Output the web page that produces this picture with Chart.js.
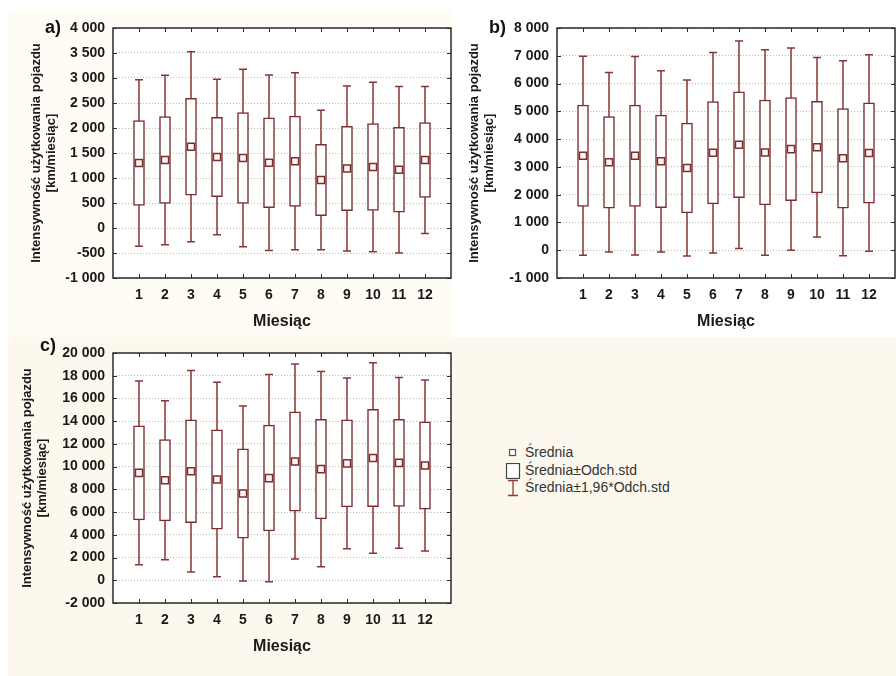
<!DOCTYPE html>
<html lang="pl">
<head>
<meta charset="utf-8">
<script src="https://cdn.jsdelivr.net/npm/chart.js@4.4.1/dist/chart.umd.min.js"></script>
<style>
  html, body { margin: 0; padding: 0; width: 896px; height: 676px; overflow: hidden; background: #fff; }
  body { position: relative; font-family: "Liberation Sans", Arial, sans-serif; }
  .bg { position: absolute; }
  .bg-a { left: 8px; top: 10px; width: 445px; height: 327px; background: #fffcf5; }
  .bg-c { left: 8px; top: 337px; width: 888px; height: 339px; background: #fdf8ed; }
  canvas { position: absolute; }
  #chartA { left: 0; top: 0; }
  #chartB { left: 444px; top: 0; }
  #chartC { left: 0; top: 325px; }
  .tag { position: absolute; font: bold 18px "Liberation Sans", Arial, sans-serif; color: #111; line-height: 20px; }
  .legend { position: absolute; left: 505px; top: 444px; font-size: 14px; color: #333; }
  .legend div { height: 17.5px; line-height: 17.5px; white-space: nowrap; }
  .legend svg { display: inline-block; vertical-align: middle; margin-right: 4px; }
</style>
</head>
<body>
<div class="bg bg-a"></div>
<div class="bg bg-c"></div>

<canvas id="chartA" width="460" height="340"></canvas>
<canvas id="chartB" width="460" height="340"></canvas>
<canvas id="chartC" width="460" height="340"></canvas>

<span class="tag" style="left:45px; top:17px;">a)</span>
<span class="tag" style="left:489px; top:17px;">b)</span>
<span class="tag" style="left:40px; top:335px;">c)</span>

<div class="legend">
  <div><svg width="16" height="16"><rect x="4.5" y="4.5" width="6" height="6" fill="#fff" stroke="#6b4a4a" stroke-width="1.2"/></svg>Średnia</div>
  <div><svg width="16" height="16"><rect x="1.5" y="0.5" width="13" height="15" fill="#fff" stroke="#444" stroke-width="1.2"/></svg>Średnia±Odch.std</div>
  <div><svg width="16" height="18"><path d="M3 1.5H13M8 1.5V16.5M3 16.5H13" stroke="#8b3a3a" stroke-width="1.3" fill="none"/></svg>Średnia±1,96*Odch.std</div>
</div>

<script>
// Miesiące na osi X
const months = [1, 2, 3, 4, 5, 6, 7, 8, 9, 10, 11, 12];

// a) średnia i odchylenie standardowe [km/miesiąc]
const meanA = [1300, 1360, 1625, 1420, 1400, 1305, 1335, 960, 1190, 1220, 1165, 1360];
const sdA   = [850, 866, 969, 793, 906, 896, 902, 712, 842, 866, 849, 749];

// b)
const meanB = [3400, 3165, 3400, 3200, 2960, 3510, 3800, 3520, 3640, 3710, 3310, 3500];
const sdB   = [1827, 1648, 1822, 1666, 1618, 1840, 1905, 1887, 1858, 1648, 1792, 1804];

// c)
const meanC = [9450, 8800, 9600, 8870, 7640, 8990, 10450, 9780, 10290, 10760, 10330, 10100];
const sdC   = [4130, 3573, 4525, 4365, 3925, 4657, 4379, 4379, 3837, 4277, 3837, 3837];

// zakres osi Y: [min, max, krok]
const rangeA = [-1000, 4000, 500];
const rangeB = [-1000, 8000, 1000];
const rangeC = [-2000, 20000, 2000];

const Z = 1.96;
const BOX = '#7a2e2e';
const WHISKER = '#853636';

Chart.defaults.font.family = '"Liberation Sans", Arial, sans-serif';
Chart.defaults.color = '#1a1a1a';

function fmt(v) {
    const s = Math.abs(v).toString().replace(/\B(?=(\d{3})+(?!\d))/g, ' ');
    return (v < 0 ? '-' : '') + s;
}

// white plot area, whiskers under the boxes, frame with inner ticks on top
function boxPlot(means, sds) {
    return {
        id: 'boxPlot',
        beforeDraw(chart) {
            const {ctx, chartArea: a} = chart;
            ctx.save();
            ctx.fillStyle = '#fff';
            ctx.fillRect(a.left, a.top, a.width, a.height);
            ctx.restore();
        },
        beforeDatasetsDraw(chart) {
            const {ctx, scales: {x, y}} = chart;
            ctx.save();
            ctx.strokeStyle = WHISKER;
            ctx.lineWidth = 1.5;
            means.forEach((m, i) => {
                const px = Math.round(x.getPixelForValue(months[i]));
                const hi = y.getPixelForValue(m + Z * sds[i]);
                const lo = y.getPixelForValue(m - Z * sds[i]);
                ctx.beginPath();
                ctx.moveTo(px, hi); ctx.lineTo(px, lo);
                ctx.moveTo(px - 4, hi); ctx.lineTo(px + 4, hi);
                ctx.moveTo(px - 4, lo); ctx.lineTo(px + 4, lo);
                ctx.stroke();
            });
            ctx.restore();
        },
        afterDraw(chart) {
            const {ctx, chartArea: a, scales: {x, y}} = chart;
            ctx.save();
            ctx.strokeStyle = '#2a2a2a';
            ctx.lineWidth = 1;
            ctx.beginPath();
            months.forEach(mo => {
                const px = Math.round(x.getPixelForValue(mo)) + 0.5;
                ctx.moveTo(px, a.top); ctx.lineTo(px, a.top + 4);
                ctx.moveTo(px, a.bottom); ctx.lineTo(px, a.bottom - 4);
            });
            y.ticks.forEach(t => {
                const py = Math.round(y.getPixelForValue(t.value)) + 0.5;
                ctx.moveTo(a.left, py); ctx.lineTo(a.left + 4, py);
                ctx.moveTo(a.right, py); ctx.lineTo(a.right - 4, py);
            });
            ctx.stroke();
            ctx.lineWidth = 1.5;
            ctx.strokeRect(a.left, a.top, a.width, a.height);
            ctx.restore();
        }
    };
}

function makeChart(id, means, sds, range, titlePad, padRight) {
    return new Chart(document.getElementById(id), {
        type: 'bar',
        data: {
            datasets: [{
                type: 'scatter',
                data: means.map((m, i) => ({x: months[i], y: m})),
                pointStyle: 'rect',
                pointRadius: 5,
                borderWidth: 1.5,
                borderColor: BOX,
                backgroundColor: '#fff6f6',
                order: 0
            }, {
                type: 'bar',
                data: means.map((m, i) => ({x: months[i], y: [m - sds[i], m + sds[i]]})),
                barThickness: 11,
                borderWidth: 1.5,
                borderColor: BOX,
                backgroundColor: '#fff',
                borderSkipped: false,
                order: 1
            }]
        },
        options: {
            responsive: false,
            animation: false,
            events: [],
            layout: {padding: {top: 28, right: padRight, left: 0, bottom: 0}},
            plugins: {legend: {display: false}, tooltip: {enabled: false}},
            scales: {
                x: {
                    type: 'linear',
                    min: 0,
                    max: 13,
                    offset: false,
                    afterFit: s => { s.height = 62; },
                    grid: {display: false, drawTicks: false},
                    border: {display: false},
                    ticks: {
                        stepSize: 1,
                        autoSkip: false,
                        maxTicksLimit: 20,
                        maxRotation: 0,
                        padding: 9,
                        font: {size: 14, weight: 'bold'},
                        callback: v => (v >= 1 && v <= 12) ? String(months[v - 1]) : ''
                    },
                    title: {
                        display: true,
                        text: 'Miesiąc',
                        font: {size: 16, weight: 'bold'},
                        padding: {top: 0, bottom: 9}
                    }
                },
                y: {
                    min: range[0],
                    max: range[1],
                    afterFit: s => { s.width = 113; },
                    grid: {color: '#b8b8b8', drawTicks: false},
                    border: {display: false, dash: [1, 2]},
                    ticks: {
                        stepSize: range[2],
                        autoSkip: false,
                        maxTicksLimit: 20,
                        padding: 8,
                        font: {size: 14, weight: 'bold'},
                        callback: v => fmt(v)
                    },
                    title: {
                        display: true,
                        text: ['Intensywność użytkowania pojazdu', '[km/miesiąc]'],
                        font: {size: 13, weight: 'bold', lineHeight: 1.15},
                        padding: {top: titlePad, bottom: 0}
                    }
                }
            }
        },
        plugins: [boxPlot(means, sds)]
    });
}

const chartA = makeChart('chartA', meanA, sdA, rangeA, 29, 8);
const chartB = makeChart('chartB', meanB, sdB, rangeB, 23, 5);
const chartC = makeChart('chartC', meanC, sdC, rangeC, 20, 8);
</script>
</body>
</html>
